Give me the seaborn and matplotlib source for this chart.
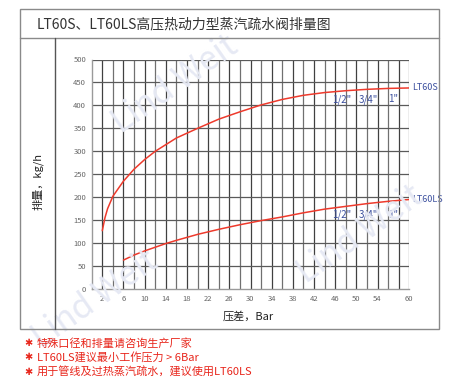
import matplotlib
matplotlib.use("Agg")
import matplotlib.pyplot as plt
import seaborn as sns
import pandas as pd
from matplotlib.patches import Rectangle
from matplotlib.lines import Line2D

# ---- data ----
lt60s_x = [2, 2.5, 3, 4, 6, 8, 10, 12, 16, 20, 24, 28, 32, 36, 40, 44, 48, 52, 56, 60]
lt60s_y = [127, 155, 175, 202, 235, 261, 282, 300, 329, 350, 370, 386, 401, 413, 422, 428, 432, 435, 437, 438]
lt60ls_x = [6, 8, 10, 12, 14, 16, 20, 24, 28, 32, 36, 40, 44, 48, 52, 56, 60]
lt60ls_y = [63, 74, 83, 91, 99, 106, 119, 130, 140, 149, 157, 166, 174, 180, 186, 191, 195]
size_labels = ['1/2"', '3/4"', '1"']
size_x = [47.2, 52.2, 56.9]
x_ticks = [2, 6, 10, 14, 18, 22, 26, 30, 34, 38, 42, 46, 50, 54, 60]
y_ticks = list(range(0, 501, 50))
title = "LT60S、LT60LS高压热动力型蒸汽疏水阀排量图"
notes = ["特殊口径和排量请咨询生产厂家",
         "LT60LS建议最小工作压力 > 6Bar",
         "用于管线及过热蒸汽疏水，建议使用LT60LS"]

sns.set_theme(style="white")
fam = ["Noto Sans CJK SC", "DejaVu Sans"]
plt.rcParams["font.family"] = fam

W, H = 467, 387
fig = plt.figure(figsize=(W / 100, H / 100), dpi=100)

def fx(px):
    return px / W

def fy(py):
    return 1 - py / H

# faint watermark
wm_col = "#e6e9f4"
for (x, y) in [(175, 85), (95, 300), (360, 235)]:
    fig.text(fx(x), fy(y), "Lind Weit", fontsize=24, color=wm_col, rotation=35,
             ha="center", va="center", family=fam, zorder=0)

# outer frame
frame_col = "#8a8a8a"
fig.add_artist(Rectangle((fx(20), fy(328.5)), fx(438.7) - fx(20), fy(9.3) - fy(328.5),
                         transform=fig.transFigure, fill=False, edgecolor=frame_col, lw=1.0, zorder=1))
fig.add_artist(Line2D([fx(20), fx(438.7)], [fy(38), fy(38)], transform=fig.transFigure,
                      color=frame_col, lw=1.0))
fig.add_artist(Line2D([fx(55.3), fx(55.3)], [fy(38), fy(328.5)], transform=fig.transFigure,
                      color="#555555", lw=1.0))

fig.text(fx(37), fy(24), title, fontsize=10, color="#333333", ha="left", va="center", family=fam)

# axes
ax = fig.add_axes([fx(91.7), fy(289), fx(409.3) - fx(91.7), fy(59.5) - fy(289)])
ax.set_facecolor("none")
ax.set_xlim(0, 60)
ax.set_ylim(0, 500)

for xv in range(2, 61, 2):
    c = "#404040" if (xv % 4 == 2) else "#707070"
    ax.axvline(xv, color=c, lw=0.9, zorder=1)
for yv in range(50, 501, 50):
    ax.axhline(yv, color="#5a5a5a", lw=0.9, zorder=1)

df_s = pd.DataFrame({"x": lt60s_x, "y": lt60s_y})
df_l = pd.DataFrame({"x": lt60ls_x, "y": lt60ls_y})
sns.lineplot(data=df_s, x="x", y="y", ax=ax, color="#ee3a2c", lw=1.1, zorder=3)
sns.lineplot(data=df_l, x="x", y="y", ax=ax, color="#ee3a2c", lw=1.1, zorder=3)

blue = "#3b4f9e"
for lab, xv in zip(size_labels, size_x):
    ax.text(xv, 413, lab, fontsize=7, color=blue, ha="center", va="center", family=fam)
    ax.text(xv, 161, lab, fontsize=7, color=blue, ha="center", va="center", family=fam)
ax.text(60.5, lt60s_y[-1], "LT60S", fontsize=6.5, color=blue, ha="left", va="center", family=fam)
ax.text(60.5, lt60ls_y[-1], "LT60LS", fontsize=6.5, color=blue, ha="left", va="center", family=fam)

ax.set_xticks(x_ticks)
ax.set_yticks(y_ticks)
ax.tick_params(axis="both", labelsize=5.5, colors="#666666", length=0, pad=4)
ax.set_xlabel("")
ax.set_ylabel("")
for s in ["top", "right"]:
    ax.spines[s].set_visible(False)
for s in ["left", "bottom"]:
    ax.spines[s].set_color("#9a9a9a")
    ax.spines[s].set_linewidth(1.0)

fig.text(fx(248), fy(316), "压差，Bar", fontsize=8, color="#222222", ha="center", va="center", family=fam)
fig.text(fx(38), fy(182), "排量，kg/h", fontsize=8, color="#222222", ha="center", va="center",
         rotation=90, family=fam)

red = "#e8261c"
for i, t in enumerate(notes):
    yy = 343 + i * 14.5
    fig.text(fx(28), fy(yy), "✱", fontsize=7, color=red, ha="center", va="center", family=["DejaVu Sans"])
    fig.text(fx(37), fy(yy), t, fontsize=8, color=red, ha="left", va="center", family=fam)

fig.savefig("out.png", dpi=100)
